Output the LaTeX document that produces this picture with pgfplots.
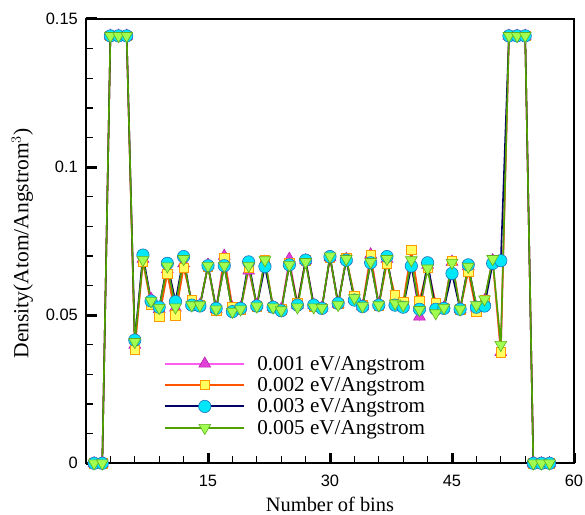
\documentclass[border=0pt]{standalone}
\usepackage{fontspec}
\setmainfont{Liberation Serif}
\newfontfamily\sansf{Liberation Sans}
\usepackage{pgfplots}
\pgfplotsset{compat=1.18}
\usepackage{pgfplotstable}

\definecolor{magline}{HTML}{FF5CF2}
\definecolor{magfill}{HTML}{E040D8}
\definecolor{magedge}{HTML}{C020B0}
\definecolor{orline}{HTML}{FF5500}
\definecolor{orfill}{HTML}{FFFF60}
\definecolor{oredge}{HTML}{FF9900}
\definecolor{navline}{HTML}{000066}
\definecolor{cyfill}{HTML}{00E8F8}
\definecolor{cyedge}{HTML}{2070C0}
\definecolor{grline}{HTML}{50A000}
\definecolor{grfill}{HTML}{A0FF50}
\definecolor{gredge}{HTML}{60B020}

\pgfplotstableread{
x a b c d
1 0 0 0 0
2 0 0 0 0
3 0.1443 0.1443 0.1443 0.1443
4 0.1443 0.1443 0.1443 0.1443
5 0.1443 0.1443 0.1443 0.1443
6 0.0400 0.0383 0.0416 0.0410
7 0.0690 0.0680 0.0703 0.0687
8 0.0555 0.0535 0.0548 0.0548
9 0.0520 0.0495 0.0527 0.0525
10 0.0655 0.0640 0.0675 0.0665
11 0.0525 0.0500 0.0546 0.0527
12 0.0675 0.0660 0.0698 0.0690
13 0.0540 0.0550 0.0534 0.0534
14 0.0534 0.0534 0.0531 0.0534
15 0.0670 0.0665 0.0667 0.0667
16 0.0520 0.0517 0.0523 0.0520
17 0.0700 0.0692 0.0667 0.0667
18 0.0525 0.0527 0.0512 0.0512
19 0.0525 0.0520 0.0523 0.0520
20 0.0650 0.0660 0.0680 0.0667
21 0.0535 0.0530 0.0531 0.0530
22 0.0680 0.0688 0.0664 0.0686
23 0.0527 0.0527 0.0527 0.0527
24 0.0520 0.0520 0.0515 0.0517
25 0.0690 0.0675 0.0670 0.0670
26 0.0535 0.0540 0.0534 0.0527
27 0.0685 0.0685 0.0686 0.0680
28 0.0535 0.0530 0.0534 0.0527
29 0.0525 0.0525 0.0523 0.0525
30 0.0695 0.0695 0.0698 0.0699
31 0.0538 0.0538 0.0540 0.0535
32 0.0690 0.0692 0.0686 0.0690
33 0.0555 0.0565 0.0551 0.0558
34 0.0530 0.0535 0.0529 0.0531
35 0.0705 0.0703 0.0677 0.0680
36 0.0536 0.0534 0.0534 0.0534
37 0.0690 0.0675 0.0698 0.0690
38 0.0545 0.0568 0.0534 0.0540
39 0.0535 0.0545 0.0527 0.0534
40 0.0675 0.0720 0.0666 0.0686
41 0.0495 0.0549 0.0520 0.0518
42 0.0670 0.0660 0.0677 0.0658
43 0.0535 0.0540 0.0520 0.0507
44 0.0525 0.0525 0.0523 0.0525
45 0.0680 0.0684 0.0641 0.0677
46 0.0520 0.0520 0.0520 0.0520
47 0.0665 0.0647 0.0670 0.0664
48 0.0525 0.0512 0.0527 0.0534
49 0.0550 0.0550 0.0531 0.0554
50 0.0685 0.0685 0.0675 0.0690
51 0.0375 0.0375 0.0684 0.0400
52 0.1443 0.1443 0.1443 0.1443
53 0.1443 0.1443 0.1443 0.1443
54 0.1443 0.1443 0.1443 0.1443
55 0 0 0 0
56 0 0 0 0
57 0 0 0 0
}\data

\begin{document}
\begin{tikzpicture}
\useasboundingbox (0,0) rectangle (585bp,515bp);
\begin{axis}[
  at={(86bp,51.7bp)}, anchor=south west,
  scale only axis, width=488bp, height=444.3bp,
  xmin=0, xmax=60, ymin=0, ymax=0.15,
  clip=false,
  axis line style={line width=2bp},
  xtick={15,30,45,60},
  minor xtick={3,6,9,12,18,21,24,27,33,36,39,42,48,51,54,57},
  ytick={0,0.05,0.1,0.15},
  yticklabels={0,0.05,0.1,0.15},
  minor ytick={0.01,0.02,0.03,0.04,0.06,0.07,0.08,0.09,0.11,0.12,0.13,0.14},
  xtick pos=bottom, ytick pos=left,
  tick align=inside,
  major tick length=10.7bp, minor tick length=7bp,
  major tick style={line width=3bp, black},
  minor tick style={line width=1.3bp, black},
  /pgf/number format/assume math mode=true,
  ticklabel style={font=\sansf\fontsize{16.5}{18}\selectfont},
  yticklabel style={inner sep=0pt, anchor=east, xshift=-8bp},
  xticklabel style={inner sep=0pt, anchor=north, yshift=-12bp},
  xlabel={Number of bins},
  xlabel style={font=\fontsize{20.5}{22}\selectfont, at={(axis description cs:0.5,-0.1096)}, anchor=base},
  ylabel={Density(Atom/Angstrom$^{3}$)},
  ylabel style={font=\fontsize{21.6}{24}\selectfont, at={(axis description cs:-0.1182,0.495)}, anchor=base, rotate=0},
  legend image code/.code={\draw[mark repeat=2,mark phase=2,#1,line width=2bp] plot coordinates {(0bp,0bp) (39.5bp,0bp) (79bp,0bp)};},
  legend style={at={(axis description cs:0.16,0.242)}, anchor=north west, draw=none, fill=none,
    inner sep=0pt, row sep=5.8bp, column sep=12bp,
    nodes={inner sep=0pt, anchor=west},
    font=\fontsize{21.2}{22}\selectfont},
  legend cell align=left,
]
\addplot[color=magline, draw=magline, line width=1.6bp, mark=triangle*, mark size=6.8bp,
  mark options={fill=magfill, draw=magedge, line width=0.6bp}] table[x=x,y=a]{\data};
\addlegendentry{0.001 eV/Angstrom}
\addplot[color=orline, draw=orline, line width=1.6bp, mark=square*, mark size=4.7bp,
  mark options={fill=orfill, draw=oredge, line width=0.6bp}] table[x=x,y=b]{\data};
\addlegendentry{0.002 eV/Angstrom}
\addplot[color=navline, draw=navline, line width=1.6bp, mark=*, mark size=6.2bp,
  mark options={fill=cyfill, draw=cyedge, line width=0.6bp}] table[x=x,y=c]{\data};
\addlegendentry{0.003 eV/Angstrom}
\addplot[color=grline, draw=grline, line width=1.6bp, mark=triangle*, mark size=6.8bp,
  mark options={fill=grfill, draw=gredge, line width=0.6bp, rotate=180}] table[x=x,y=d]{\data};
\addlegendentry{0.005 eV/Angstrom}
\end{axis}
\end{tikzpicture}
\end{document}
